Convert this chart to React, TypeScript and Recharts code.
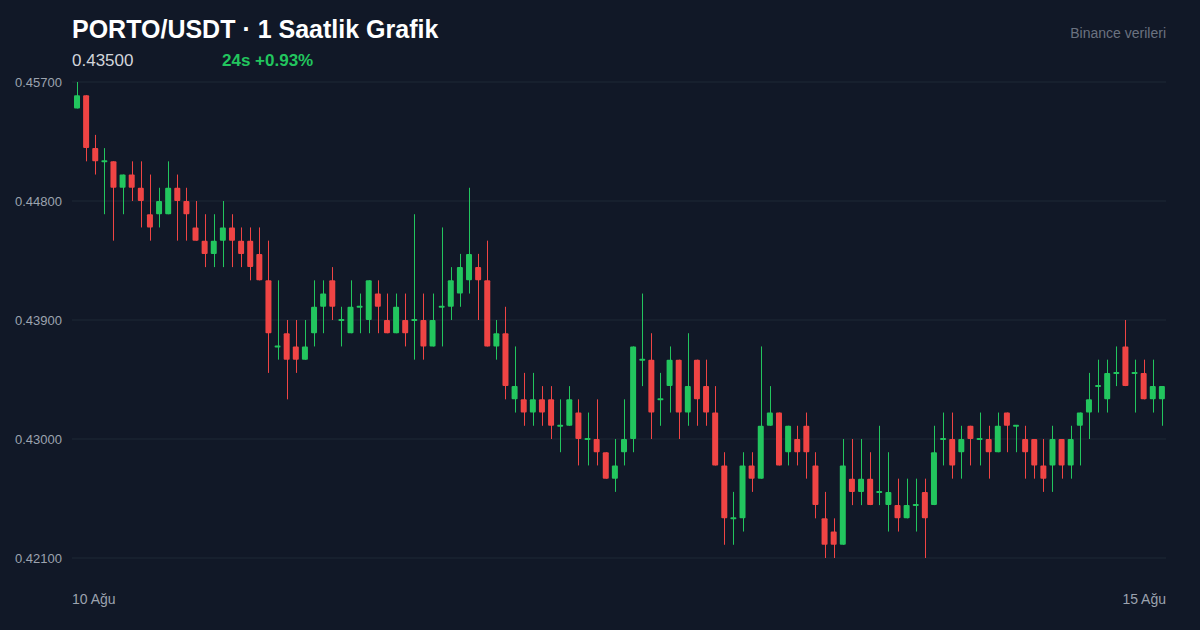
import { ComposedChart, Bar, XAxis, YAxis, CartesianGrid } from "recharts";

const GREEN = "#22c55e";
const RED = "#ef4444";
const BG = "#111827";
const FONT = '"Liberation Sans", Arial, sans-serif';

// hourly candles, 10 Ağu -> 15 Ağu
const open = [
  0.455, 0.456, 0.452, 0.451, 0.451, 0.449, 0.45, 0.449, 0.447, 0.447,
  0.447, 0.449, 0.448, 0.446, 0.445, 0.444, 0.445, 0.446, 0.445, 0.445,
  0.444, 0.442, 0.437, 0.438, 0.437, 0.436, 0.438, 0.44, 0.442, 0.439,
  0.438, 0.44, 0.439, 0.441, 0.439, 0.438, 0.439, 0.439, 0.439, 0.437,
  0.44, 0.44, 0.441, 0.442, 0.443, 0.442, 0.437, 0.438, 0.433, 0.433,
  0.432, 0.433, 0.433, 0.431, 0.431, 0.432, 0.43, 0.43, 0.429, 0.427,
  0.429, 0.43, 0.436, 0.436, 0.433, 0.434, 0.436, 0.432, 0.436, 0.434,
  0.432, 0.428, 0.424, 0.424, 0.428, 0.427, 0.431, 0.432, 0.429, 0.43,
  0.431, 0.428, 0.424, 0.423, 0.422, 0.427, 0.426, 0.427, 0.426, 0.425,
  0.425, 0.424, 0.425, 0.426, 0.425, 0.43, 0.43, 0.429, 0.431, 0.43,
  0.43, 0.429, 0.432, 0.431, 0.43, 0.43, 0.428, 0.428, 0.43, 0.428,
  0.431, 0.432, 0.434, 0.433, 0.435, 0.437, 0.435, 0.435, 0.433, 0.433,
];

const high = [
  0.457, 0.456, 0.453, 0.452, 0.451, 0.45, 0.451, 0.451, 0.45, 0.449,
  0.451, 0.45, 0.449, 0.448, 0.447, 0.447, 0.448, 0.447, 0.446, 0.446,
  0.446, 0.445, 0.442, 0.439, 0.439, 0.439, 0.442, 0.442, 0.443, 0.44,
  0.442, 0.441, 0.442, 0.442, 0.441, 0.441, 0.441, 0.447, 0.441, 0.441,
  0.446, 0.443, 0.444, 0.449, 0.444, 0.445, 0.439, 0.44, 0.437, 0.435,
  0.435, 0.434, 0.434, 0.433, 0.434, 0.433, 0.432, 0.433, 0.429, 0.43,
  0.433, 0.437, 0.441, 0.438, 0.435, 0.437, 0.436, 0.438, 0.436, 0.436,
  0.434, 0.429, 0.426, 0.429, 0.429, 0.437, 0.434, 0.432, 0.431, 0.431,
  0.432, 0.429, 0.426, 0.424, 0.43, 0.43, 0.43, 0.429, 0.431, 0.429,
  0.427, 0.427, 0.427, 0.427, 0.431, 0.432, 0.432, 0.431, 0.431, 0.432,
  0.431, 0.432, 0.432, 0.431, 0.431, 0.43, 0.43, 0.431, 0.43, 0.431,
  0.432, 0.435, 0.436, 0.436, 0.437, 0.439, 0.436, 0.436, 0.436, 0.434,
];

const low = [
  0.455, 0.451, 0.45, 0.447, 0.445, 0.447, 0.448, 0.446, 0.445, 0.446,
  0.447, 0.445, 0.445, 0.445, 0.443, 0.443, 0.443, 0.443, 0.443, 0.442,
  0.442, 0.435, 0.436, 0.433, 0.435, 0.436, 0.437, 0.438, 0.439, 0.437,
  0.438, 0.438, 0.438, 0.438, 0.438, 0.438, 0.437, 0.436, 0.436, 0.437,
  0.437, 0.439, 0.44, 0.441, 0.439, 0.437, 0.436, 0.433, 0.432, 0.431,
  0.431, 0.431, 0.43, 0.429, 0.431, 0.428, 0.428, 0.428, 0.427, 0.426,
  0.428, 0.429, 0.434, 0.43, 0.431, 0.432, 0.43, 0.431, 0.431, 0.431,
  0.428, 0.422, 0.422, 0.423, 0.426, 0.427, 0.431, 0.428, 0.428, 0.428,
  0.427, 0.424, 0.421, 0.421, 0.422, 0.425, 0.425, 0.425, 0.425, 0.423,
  0.423, 0.424, 0.423, 0.421, 0.425, 0.428, 0.427, 0.427, 0.428, 0.428,
  0.427, 0.429, 0.429, 0.429, 0.427, 0.427, 0.426, 0.426, 0.427, 0.427,
  0.428, 0.43, 0.432, 0.432, 0.434, 0.434, 0.432, 0.433, 0.432, 0.431,
];

const close = [
  0.456, 0.452, 0.451, 0.451, 0.449, 0.45, 0.449, 0.448, 0.446, 0.448,
  0.449, 0.448, 0.447, 0.445, 0.444, 0.445, 0.446, 0.445, 0.444, 0.443,
  0.442, 0.438, 0.437, 0.436, 0.436, 0.437, 0.44, 0.441, 0.44, 0.439,
  0.44, 0.44, 0.442, 0.44, 0.438, 0.44, 0.438, 0.439, 0.437, 0.439,
  0.44, 0.442, 0.443, 0.444, 0.442, 0.437, 0.438, 0.434, 0.434, 0.432,
  0.433, 0.432, 0.431, 0.431, 0.433, 0.43, 0.43, 0.429, 0.427, 0.428,
  0.43, 0.437, 0.436, 0.432, 0.433, 0.436, 0.432, 0.434, 0.433, 0.432,
  0.428, 0.424, 0.424, 0.428, 0.427, 0.431, 0.432, 0.428, 0.431, 0.429,
  0.429, 0.425, 0.422, 0.422, 0.428, 0.426, 0.427, 0.425, 0.426, 0.426,
  0.424, 0.425, 0.425, 0.424, 0.429, 0.43, 0.428, 0.43, 0.43, 0.43,
  0.429, 0.431, 0.431, 0.431, 0.429, 0.428, 0.427, 0.43, 0.428, 0.43,
  0.432, 0.433, 0.434, 0.435, 0.435, 0.434, 0.435, 0.433, 0.434, 0.434,
];

const priceTicks = [0.421, 0.43, 0.439, 0.448, 0.457];
const dayTickIndex = [0, 119];
const dayLabels = ["10 Ağu", "15 Ağu"];

const data = open.map((o, i) => ({
  i,
  open: o,
  high: high[i],
  low: low[i],
  close: close[i],
}));

const Candle = (props: any) => {
  const { x, y, width, height, payload } = props;
  if (!payload) return null;
  const top = Math.min(y, y + height);
  const bot = Math.max(y, y + height);
  const span = payload.high - payload.low;
  const py = (v: number) => (span > 0 ? bot - ((v - payload.low) / span) * (bot - top) : top);
  const up = payload.close >= payload.open;
  const color = up ? GREEN : RED;
  const cx = Math.round(x + width / 2) + 0.5;
  let bTop = py(Math.max(payload.open, payload.close));
  let bBot = py(Math.min(payload.open, payload.close));
  if (bBot - bTop < 2) {
    const m = (bTop + bBot) / 2;
    bTop = m - 1;
    bBot = m + 1;
  }
  return (
    <g>
      <line x1={cx} x2={cx} y1={top} y2={bot} stroke={color} strokeWidth={1} />
      <rect x={x} y={bTop} width={width} height={bBot - bTop} fill={color} rx={1} />
    </g>
  );
};

const PriceTick = (props: any) => {
  const { y, payload } = props;
  return (
    <text x={15} y={y + 4.5} fill="#9ca3af" fontSize={13} fontFamily={FONT} textAnchor="start">
      {Number(payload.value).toFixed(5)}
    </text>
  );
};

const halfBand = 1094 / open.length / 2;

const DayTick = (props: any) => {
  const { x, payload } = props;
  const k = dayTickIndex.indexOf(payload.value);
  if (k < 0) return null;
  const first = k === 0;
  return (
    <text
      x={first ? x - halfBand : x + halfBand}
      y={604}
      fill="#9ca3af"
      fontSize={14}
      fontFamily={FONT}
      textAnchor={first ? "start" : "end"}
    >
      {dayLabels[k]}
    </text>
  );
};

export default function App() {
  return (
    <div
      style={{
        position: "fixed",
        left: 0,
        top: 0,
        width: 1200,
        height: 630,
        background: BG,
        fontFamily: FONT,
        overflow: "hidden",
      }}
    >
      <div style={{ position: "absolute", left: 72, top: 17, fontSize: 25, lineHeight: "25px", fontWeight: 700, color: "#ffffff" }}>
        PORTO/USDT · 1 Saatlik Grafik
      </div>
      <div style={{ position: "absolute", left: 72, top: 52, fontSize: 17, lineHeight: "17px", color: "#d1d5db" }}>
        0.43500
      </div>
      <div style={{ position: "absolute", left: 222, top: 52, fontSize: 17, lineHeight: "17px", fontWeight: 700, color: GREEN }}>
        24s +0.93%
      </div>
      <div style={{ position: "absolute", right: 34, top: 26, fontSize: 14, lineHeight: "14px", color: "#6b7280" }}>
        Binance verileri
      </div>
      <div style={{ position: "absolute", left: 0, top: 0 }}>
        <ComposedChart width={1200} height={630} data={data} margin={{ top: 82, right: 34, bottom: 0, left: 0 }}>
          <CartesianGrid stroke="#1f2937" vertical={false} />
          <XAxis
            dataKey="i"
            type="category"
            height={72}
            ticks={dayTickIndex}
            interval={0}
            tick={<DayTick />}
            axisLine={false}
            tickLine={false}
          />
          <YAxis
            width={72}
            domain={[0.421, 0.457]}
            ticks={priceTicks}
            tick={<PriceTick />}
            axisLine={false}
            tickLine={false}
            allowDataOverflow
          />
          <Bar
            dataKey={(d: any) => [d.low, d.high]}
            barSize={6}
            shape={<Candle />}
            isAnimationActive={false}
          />
        </ComposedChart>
      </div>
    </div>
  );
}
